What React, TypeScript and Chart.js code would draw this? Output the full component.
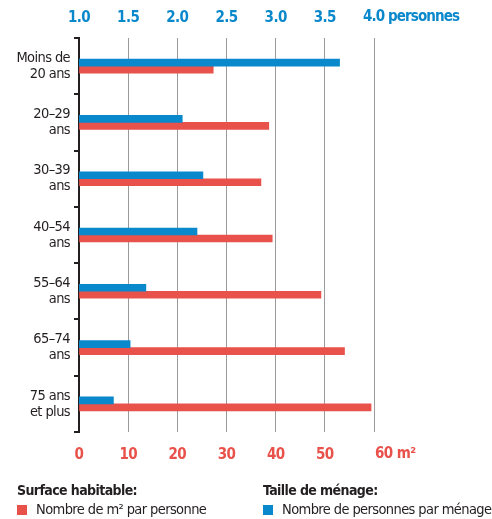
import React, { useEffect, useRef } from "react";
import { Chart, registerables } from "chart.js";

Chart.register(...registerables);

// Age groups (multi-line labels on the category axis)
const ageGroups: string[][] = [
  ["Moins de", "20 ans"],
  ["20–29", "ans"],
  ["30–39", "ans"],
  ["40–54", "ans"],
  ["55–64", "ans"],
  ["65–74", "ans"],
  ["75 ans", "et plus"],
];

// Household size (persons per household), top axis
const personsPerHousehold: number[] = [3.65, 2.05, 2.26, 2.2, 1.68, 1.52, 1.35];

// Living space per person (m²), bottom axis
const areaPerPerson: number[] = [27.3, 38.6, 37.0, 39.3, 49.2, 54.0, 59.4];

const BLUE = "#0a88cc";
const RED = "#e8524a";
const TEXT = "#231f20";
const FONT = "'Liberation Sans Narrow', 'DejaVu Sans Condensed', 'Roboto', sans-serif";
const TRACKING = "-0.6px";

const legendTitles = ["Surface habitable:", "Taille de ménage:"];
const legendLabels = ["Nombre de m² par personne", "Nombre de personnes par ménage"];

const unitLabels = {
  bottom: "60 m²",
  top: "4.0 personnes",
};

// tighter tracking for every text drawn on the canvas (condensed look)
const trackingPlugin = {
  id: "tracking",
  beforeLayout(chart: any) {
    (chart.ctx as any).letterSpacing = TRACKING;
  },
  beforeDraw(chart: any) {
    (chart.ctx as any).letterSpacing = TRACKING;
  },
};

const extrasPlugin = {
  id: "extras",
  afterDraw(chart: any) {
    const ctx = chart.ctx as CanvasRenderingContext2D;
    const xb = chart.scales.x;
    const xt = chart.scales.x2;
    ctx.save();
    (ctx as any).letterSpacing = TRACKING;
    ctx.font = `bold 15px ${FONT}`;
    ctx.textBaseline = "middle";
    ctx.textAlign = "left";
    // last tick labels carry their unit
    ctx.fillStyle = RED;
    ctx.fillText(unitLabels.bottom, xb.getPixelForValue(60) + 1, 454);
    ctx.fillStyle = BLUE;
    (ctx as any).letterSpacing = "-0.9px";
    ctx.fillText(unitLabels.top, xt.getPixelForValue(4) - 11, 17);
    (ctx as any).letterSpacing = TRACKING;

    // legend
    const cols = [17, 263];
    const colors = [RED, BLUE];
    for (let i = 0; i < 2; i++) {
      ctx.fillStyle = TEXT;
      ctx.font = `bold 14px ${FONT}`;
      ctx.fillText(legendTitles[i], cols[i], 491);
      ctx.fillStyle = colors[i];
      ctx.fillRect(cols[i], 505, 10, 10);
      ctx.fillStyle = TEXT;
      ctx.font = `14.5px ${FONT}`;
      ctx.fillText(legendLabels[i], cols[i] + 19, 510.5);
    }
    ctx.restore();
  },
};

export default function App() {
  const canvasRef = useRef<HTMLCanvasElement | null>(null);

  useEffect(() => {
    const canvas = canvasRef.current;
    if (!canvas) return;
    const chart = new Chart(canvas, {
      type: "bar",
      data: {
        labels: ageGroups,
        datasets: [
          {
            label: "Nombre de personnes par ménage",
            data: personsPerHousehold,
            backgroundColor: BLUE,
            xAxisID: "x2",
            barThickness: 7,
          },
          {
            label: "Nombre de m² par personne",
            data: areaPerPerson,
            backgroundColor: RED,
            xAxisID: "x",
            barThickness: 7,
          },
        ],
      },
      options: {
        indexAxis: "y",
        animation: false,
        responsive: false,
        maintainAspectRatio: false,
        layout: { padding: { left: 0, right: 118, top: 0, bottom: 49 } },
        plugins: {
          legend: { display: false },
          tooltip: { enabled: false },
        },
        scales: {
          x: {
            type: "linear",
            position: "bottom",
            min: 0,
            max: 60,
            afterFit: (s: any) => {
              s.height = 38;
            },
            ticks: {
              stepSize: 10,
              padding: 14,
              color: RED,
              font: { family: FONT, size: 15, weight: "bold" },
              callback: (v: any) => (v === 60 ? "" : String(v)),
            },
            grid: {
              drawTicks: false,
              color: (c: any) => (c.tick && c.tick.value === 0 ? "rgba(0,0,0,0)" : "#9a9a9a"),
              lineWidth: 1,
            },
            border: { display: false },
          },
          x2: {
            type: "linear",
            position: "top",
            min: 1,
            max: 4,
            afterFit: (s: any) => {
              s.height = 38;
            },
            ticks: {
              stepSize: 0.5,
              padding: 11,
              color: BLUE,
              font: { family: FONT, size: 15, weight: "bold" },
              callback: (v: any) => (v === 4 ? "" : Number(v).toFixed(1)),
            },
            grid: { display: false, drawTicks: false },
            border: { display: false },
          },
          y: {
            type: "category",
            position: "left",
            afterFit: (s: any) => {
              s.width = 79;
            },
            ticks: {
              padding: 4,
              color: TEXT,
              font: { family: FONT, size: 14.5, lineHeight: 16 / 14.5 },
            },
            grid: {
              offset: true,
              drawOnChartArea: false,
              drawTicks: true,
              tickLength: 5,
              color: TEXT,
              lineWidth: 2,
            },
            border: { display: true, color: TEXT, width: 2 },
          },
        },
      },
      plugins: [trackingPlugin, extrasPlugin],
    });
    return () => chart.destroy();
  }, []);

  return (
    <div style={{ position: "fixed", left: 0, top: 0, width: 492, height: 519, background: "#fff" }}>
      <canvas ref={canvasRef} width={492} height={519} style={{ width: 492, height: 519 }} />
    </div>
  );
}
